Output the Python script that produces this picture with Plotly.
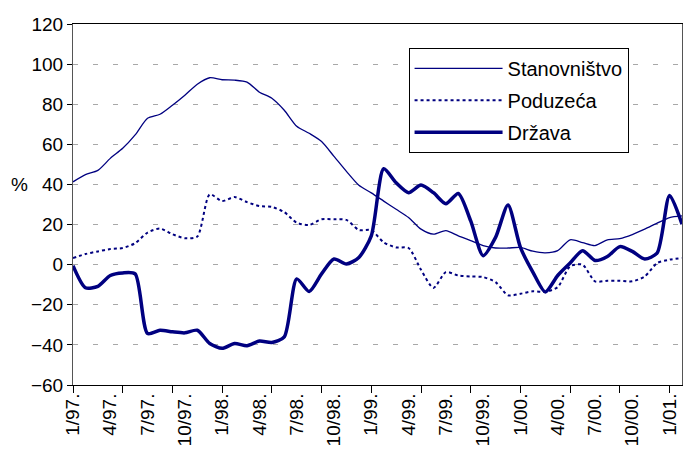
import plotly.graph_objects as go

# Monthly categories 1/97 .. 2/01
years = ["97", "98", "99", "00", "01"]
months = []
for y in years:
    for m in range(1, 13):
        months.append(f"{m}/{y}.")
months = months[:50]

stanovnistvo = [41.3, 44.9, 47.0, 53.0, 58.0, 64.7, 73.0, 75.0, 79.5, 84.5,
                90.0, 93.2, 92.2, 92.0, 91.0, 86.0, 83.0, 77.0, 69.0, 65.5,
                61.4, 54.0, 46.5, 39.6, 35.8, 31.7, 27.6, 23.5, 17.7, 15.2,
                17.0, 14.4, 12.0, 9.5, 8.3, 8.3, 8.6, 6.7, 5.9, 7.0,
                12.4, 11.0, 9.5, 12.4, 13.0, 15.0, 17.7, 20.7, 23.5, 24.3]

poduzeca = [3.3, 5.3, 6.6, 7.8, 8.3, 10.7, 16.0, 18.0, 15.2, 13.2,
            14.0, 35.0, 31.7, 33.7, 31.2, 29.2, 28.8, 26.2, 20.9, 19.8,
            22.6, 22.6, 22.3, 17.3, 17.2, 11.1, 8.6, 8.3, -2.5, -11.6,
            -3.7, -5.4, -5.9, -6.2, -8.7, -15.3, -14.5, -13.3, -13.6, -11.2,
            -0.8, 0.0, -8.3, -8.0, -8.0, -8.3, -5.9, 0.8, 2.5, 3.3]

drzava = [-0.5, -11.5, -10.8, -5.4, -4.1, -4.6, -34.3, -32.7, -33.5, -34.0,
          -32.7, -39.3, -41.7, -39.3, -40.4, -38.1, -38.8, -36.0, -7.1, -13.4,
          -4.6, 2.8, 0.3, 3.6, 14.4, 47.8, 40.8, 35.9, 39.7, 35.9,
          30.4, 35.5, 21.8, 4.5, 13.6, 29.8, 8.6, -3.7, -13.6, -5.4,
          0.8, 7.0, 2.1, 4.1, 9.0, 6.6, 2.8, 5.8, 34.5, 20.2]

x = list(range(len(months)))
label_idx = list(range(0, 49, 3))
tick_idx = list(range(0, 50, 4))
navy = "#000080"

fig = go.Figure()
fig.add_trace(go.Scatter(x=x, y=stanovnistvo, name="Stanovništvo", mode="lines",
                         line=dict(color=navy, width=1.3, shape="spline", smoothing=0.7),
                         legendgroup="a"))
fig.add_trace(go.Scatter(x=x, y=poduzeca, name="Poduzeća", mode="lines",
                         line=dict(color=navy, width=2, dash="dot", shape="spline", smoothing=0.7),
                         legendgroup="b"))
fig.add_trace(go.Scatter(x=x, y=drzava, name="Država", mode="lines",
                         line=dict(color=navy, width=3.5, shape="spline", smoothing=0.7),
                         legendgroup="c"))

fig.add_annotation(text="%", xref="paper", yref="y", x=-0.088, y=40,
                   showarrow=False, font=dict(size=19, color="black"),
                   xanchor="center", yanchor="middle")

fig.update_layout(
    width=683, height=455,
    margin=dict(l=73, r=1, t=24, b=70, autoexpand=False),
    paper_bgcolor="white", plot_bgcolor="white",
    font=dict(family="Liberation Sans, Arial", size=19, color="black"),
    showlegend=True,
    legend=dict(x=0.551, y=0.934, xanchor="left", yanchor="top",
                bordercolor="black", borderwidth=1, bgcolor="white",
                font=dict(size=20), tracegroupgap=3, itemwidth=88),
    xaxis=dict(range=[0, 49], tickmode="array", tickvals=[x[i] for i in label_idx],
               ticktext=[months[i] for i in label_idx], tickangle=-90,
               ticks="", showgrid=False, zeroline=False, automargin=False,
               showline=True, linecolor="black", linewidth=1, mirror=True,
               minor=dict(tickmode="array", tickvals=[x[i] for i in tick_idx],
                          ticks="outside", ticklen=7, tickcolor="black", showgrid=False)),
    yaxis=dict(range=[-60, 120], dtick=20, showgrid=True, gridcolor="#a8a8a8",
               griddash="5px,15px", gridwidth=1, zeroline=False, automargin=False,
               showline=True, linecolor="#555555", linewidth=1, mirror=True,
               ticks="outside", ticklen=5, tickcolor="black"),
)

fig.write_html("out.html", config={"displayModeBar": False},
               post_script="document.body.style.margin='0';document.body.style.overflow='hidden';")
